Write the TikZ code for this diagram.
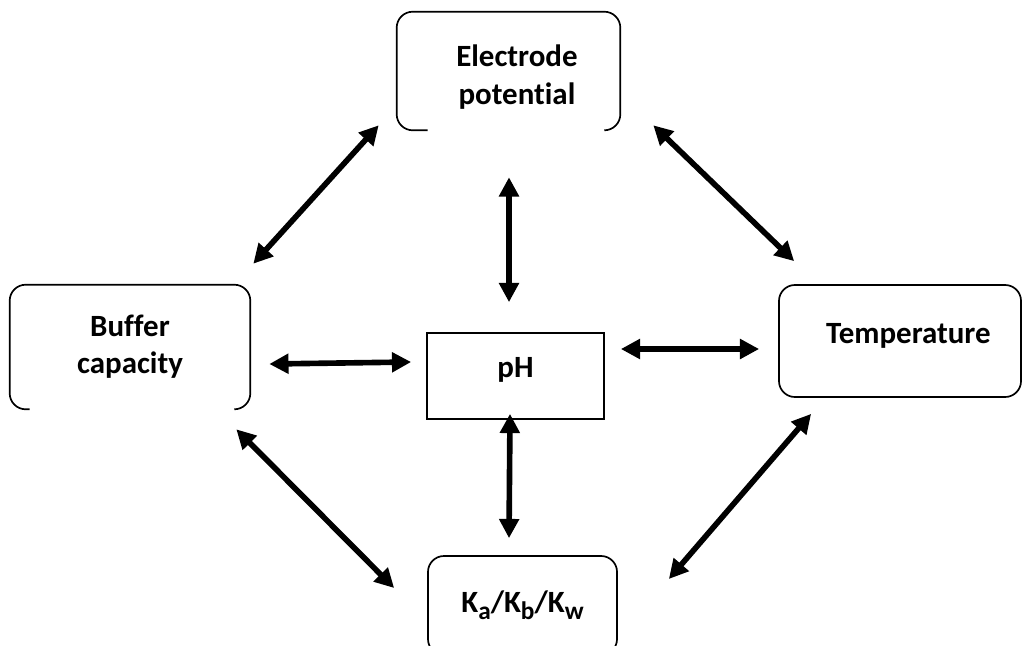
\documentclass[tikz,border=0pt]{standalone}
\usepackage{fontspec}
\setmainfont{Carlito}[Ligatures=NoCommon]
\usetikzlibrary{arrows.meta}

\newcommand{\sub}[1]{\raisebox{-0.45ex}{\fontsize{18}{18}\selectfont #1}}

\begin{document}
\begin{tikzpicture}[
  x=0.025cm,y=-0.025cm,
  box/.style={rounded corners=0.4cm,minimum width=#1,align=center,inner sep=0pt},
  link/.style={{Triangle[length=4.8mm,width=4.8mm]}-{Triangle[length=4.8mm,width=4.8mm]},line width=4pt},
  every node/.append style={font=\fontsize{22}{26.5}\selectfont\bfseries}
]
  \clip (0,0) rectangle (1023,645);

  \node[box=5.575cm,minimum height=2.95cm] (electrode) at (508.5,71) {\rule{0pt}{24pt}\hspace*{12pt}Electrode\\\hspace*{12pt}potential};
  \node[box=6cm,minimum height=3.1cm] (buffer) at (130,347) {Buffer\\capacity};
  \node[box=6.05cm,minimum height=2.8cm,draw,line width=1.2pt,text height=14pt,text depth=11pt] (temperature) at (900,341) {\hspace*{12pt}Temperature};
  \node[box=4.725cm,minimum height=2.475cm,draw,line width=1.2pt] (ka) at (522.5,605.5) {K\sub{a}/K\sub{b}/K\sub{w}};
  \node[draw,line width=1.2pt,minimum width=4.425cm,minimum height=2.15cm,text height=14pt,text depth=12pt] (ph) at (515.5,376) {pH};

  % open-bottom outlines
  \draw[line width=1.2pt,rounded corners=0.4cm] ([xshift=0.775cm]electrode.south west) -- (electrode.south west)
    -- (electrode.north west) -- (electrode.north east) -- (electrode.south east) -- ([xshift=-0.4cm]electrode.south east);
  \draw[line width=1.2pt,rounded corners=0.4cm] ([xshift=0.5cm]buffer.south west) -- (buffer.south west)
    -- (buffer.north west) -- (buffer.north east) -- (buffer.south east) -- ([xshift=-0.4cm]buffer.south east);

  \draw[link] ([shift={(-18,-5)}]electrode.south west) -- ([shift={(3,-21)}]buffer.north east);
  \draw[link] ([shift={(33,-5)}]electrode.south east) -- ([shift={(16,-23)}]temperature.north west);
  \draw[link] ([shift={(0.5,47)}]electrode.south) -- ([shift={(-6.5,-30)}]ph.north);
  \draw[link] ([shift={(-5.5,-6)}]ph.south) -- ([shift={(-13.5,-17)}]ka.north);
  \draw[link] ([shift={(-14,20)}]buffer.south east) -- ([shift={(-33,-17.5)}]ka.west);
  \draw[link] ([shift={(33,16)}]temperature.south west) -- ([shift={(51,-26.5)}]ka.east);
  \draw[link] ([shift={(19,17)}]buffer.east) -- ([shift={(-15,-14)}]ph.west);
  \draw[link] ([shift={(16,-27)}]ph.east) -- ([shift={(-19,8)}]temperature.west);
\end{tikzpicture}
\end{document}
